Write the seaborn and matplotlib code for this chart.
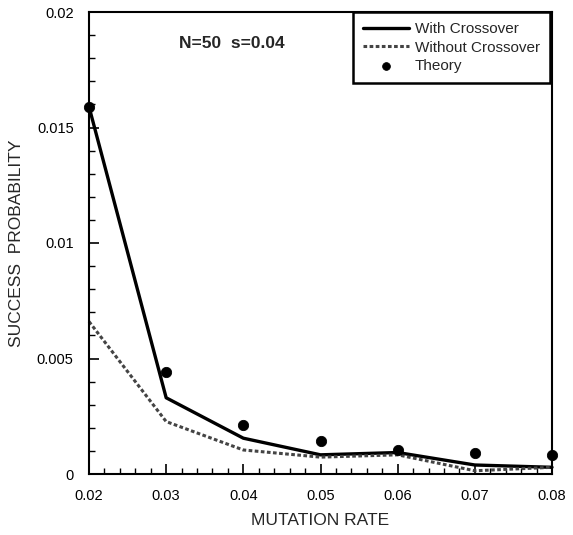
import matplotlib
matplotlib.use("Agg")
import matplotlib.pyplot as plt
import seaborn as sns
import pandas as pd
from matplotlib.ticker import MultipleLocator, FixedLocator

mutation_rate = [0.02, 0.03, 0.04, 0.05, 0.06, 0.07, 0.08]
with_crossover = [0.0159, 0.0033, 0.00155, 0.00083, 0.00093, 0.00039, 0.00029]
without_crossover = [0.0066, 0.00227, 0.00104, 0.00073, 0.00083, 0.00014, 0.00029]
theory = [0.0159, 0.00443, 0.00213, 0.00142, 0.00103, 0.00093, 0.00083]

x_ticks = [0.02, 0.03, 0.04, 0.05, 0.06, 0.07, 0.08]
x_labels = ["0.02", "0.03", "0.04", "0.05", "0.06", "0.07", "0.08"]
y_ticks = [0, 0.005, 0.01, 0.015, 0.02]
y_labels = ["0", "0.005", "0.01", "0.015", "0.02"]

df = pd.DataFrame({"x": mutation_rate, "with": with_crossover,
                   "without": without_crossover, "theory": theory})

sns.set_style("ticks")
plt.rcParams["font.family"] = ["Liberation Sans", "DejaVu Sans"]

fig = plt.figure(figsize=(5.73, 5.35), dpi=100)
ax = fig.add_axes([89 / 573, (535 - 474) / 535, (552 - 89) / 573, (474 - 12) / 535])

sns.lineplot(data=df, x="x", y="with", ax=ax, color="black", lw=2.4,
             label="With Crossover", clip_on=False)
sns.lineplot(data=df, x="x", y="without", ax=ax, color="#444444", lw=2.2,
             dashes=False, label="Without Crossover", clip_on=False)
ax.lines[-1].set_dashes([1.2, 0.8])
sns.scatterplot(data=df, x="x", y="theory", ax=ax, color="black", s=55,
                edgecolor="black", label="Theory", clip_on=False, zorder=5)

ax.set_xlim(0.02, 0.08)
ax.set_ylim(0, 0.02)
ax.xaxis.set_major_locator(FixedLocator(x_ticks))
ax.set_xticklabels(x_labels)
ax.yaxis.set_major_locator(FixedLocator(y_ticks))
ax.set_yticklabels(y_labels)
ax.xaxis.set_minor_locator(MultipleLocator(0.002))
ax.yaxis.set_minor_locator(MultipleLocator(0.001))
ax.tick_params(which="both", direction="in", top=False, right=False,
               labelsize=10.5, colors="black")
ax.tick_params(which="major", length=7, width=1.2)
ax.tick_params(axis="x", which="major", pad=11)
ax.tick_params(axis="y", which="major", pad=11)
ax.tick_params(which="minor", length=4, width=1.0)
for sp in ax.spines.values():
    sp.set_visible(True)
    sp.set_linewidth(1.5)
    sp.set_color("black")

ax.set_xlabel("MUTATION RATE", fontsize=12.5, labelpad=7)
ax.set_ylabel("SUCCESS  PROBABILITY", fontsize=12.5, labelpad=9)

ax.text(0.0385, 0.01865, "N=50  s=0.04", fontsize=12.5, fontweight="bold",
        ha="center", va="center")

leg = ax.legend(loc="upper right", bbox_to_anchor=(0.996, 1.0), borderaxespad=0,
                fontsize=11, handlelength=3.0, handletextpad=0.4,
                frameon=True, fancybox=False, labelspacing=0.3,
                borderpad=0.65, markerscale=0.75)
leg.get_frame().set_edgecolor("black")
leg.get_frame().set_linewidth(1.8)
leg.get_frame().set_alpha(1)

fig.savefig("out.png", dpi=100)
